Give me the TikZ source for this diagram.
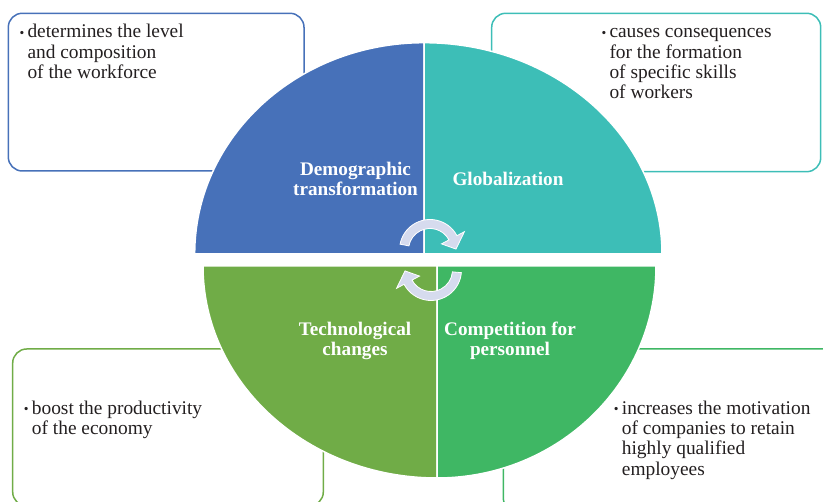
\documentclass[tikz,border=0pt]{standalone}
\usepackage{fontspec}
\setmainfont{Liberation Serif}
\usepackage{tikz}
\usetikzlibrary{positioning}

\definecolor{demoblue}{RGB}{71,113,185}
\definecolor{globteal}{RGB}{61,190,183}
\definecolor{techgreen}{RGB}{112,172,71}
\definecolor{compgreen}{RGB}{63,183,100}
\definecolor{turnfill}{RGB}{214,219,238}
\definecolor{textdark}{RGB}{35,31,32}

\newcommand{\itemdot}{\makebox[8pt][l]{\raisebox{0.5pt}{\fontsize{13.5}{13.5}\selectfont\textbullet}}}

\begin{document}
\begin{tikzpicture}[x=1pt, y=1pt,
    note/.style={rounded corners=14pt, line width=1.5pt},
    quarter/.style={draw=white, line width=1.5pt},
    seglabel/.style={text=white, font=\fontsize{19.2}{20}\selectfont\bfseries, align=center},
    itemtext/.style={anchor=north west, align=left, inner sep=0pt, text=textdark, font=\fontsize{19.4}{20.3}\selectfont},
    turnarrow/.style={fill=turnfill, draw=white, line width=0.8pt}]

    \useasboundingbox (0,0) rectangle (823,502);

    % Boxes
    \draw[note, draw=demoblue] (8.3,488.7) rectangle (304,331);
    \draw[note, draw=globteal] (491.7,488.7) rectangle (820.7,330.3);
    \draw[note, draw=techgreen] (12.7,153) rectangle (323.3,-4);
    \draw[note, draw=compgreen] (503.3,153) rectangle (845,-10);

    % Quarters
    \path[quarter, fill=demoblue] (424,248) -- (194.7,248) arc[start angle=180, end angle=90, x radius=229.3, y radius=211.3] -- cycle;
    \path[quarter, fill=globteal] (424,248) -- (424,459.3) arc[start angle=90, end angle=0, x radius=238, y radius=211.3] -- cycle;
    \path[quarter, fill=techgreen] (437,236) -- (203,236) arc[start angle=180, end angle=270, x radius=234, y radius=212] -- cycle;
    \path[quarter, fill=compgreen] (437,236) -- (437,24) arc[start angle=270, end angle=360, x radius=219, y radius=212] -- cycle;

    % Turning arrows
    \begin{scope}[shift={(430,252)}]
        \path[turnarrow] (169:30.5) arc[start angle=169, end angle=28, radius=30.5] -- (28:39) -- (2:26) -- (28:13) -- (28:21.5) arc[start angle=28, end angle=169, radius=21.5] -- cycle;
    \end{scope}
    \begin{scope}[shift={(431,232)}]
        \path[turnarrow] (-5:30.5) arc[start angle=-5, end angle=-152, radius=30.5] -- (-152:39) -- (-178:26) -- (-152:13) -- (-152:21.5) arc[start angle=-152, end angle=-5, radius=21.5] -- cycle;
    \end{scope}

    % Nodes
    \node (demo) [seglabel] at (355.5,323) {Demographic\\transformation};
    \node (glob) [seglabel] at (508,323) {Globalization};
    \node (tech) [seglabel] at (355,161.5) {Technological\\changes};
    \node (comp) [seglabel] at (510,161.5) {Competition for\\personnel};

    \node (demotxt) [itemtext] at (27.3,478.5) {\strut\llap{\itemdot}determines the level\\and composition\\of the workforce};
    \node (globtxt) [itemtext] at (609.3,478.5) {\strut\llap{\itemdot}causes consequences\\for the formation\\of specific skills\\of workers};
    \node (techtxt) [itemtext] at (31.7,102.2) {\strut\llap{\itemdot}boost the productivity\\of the economy};
    \node (comptxt) [itemtext] at (621.7,102.2) {\strut\llap{\itemdot}increases the motivation\\of companies to retain\\highly qualified\\employees};
\end{tikzpicture}
\end{document}
